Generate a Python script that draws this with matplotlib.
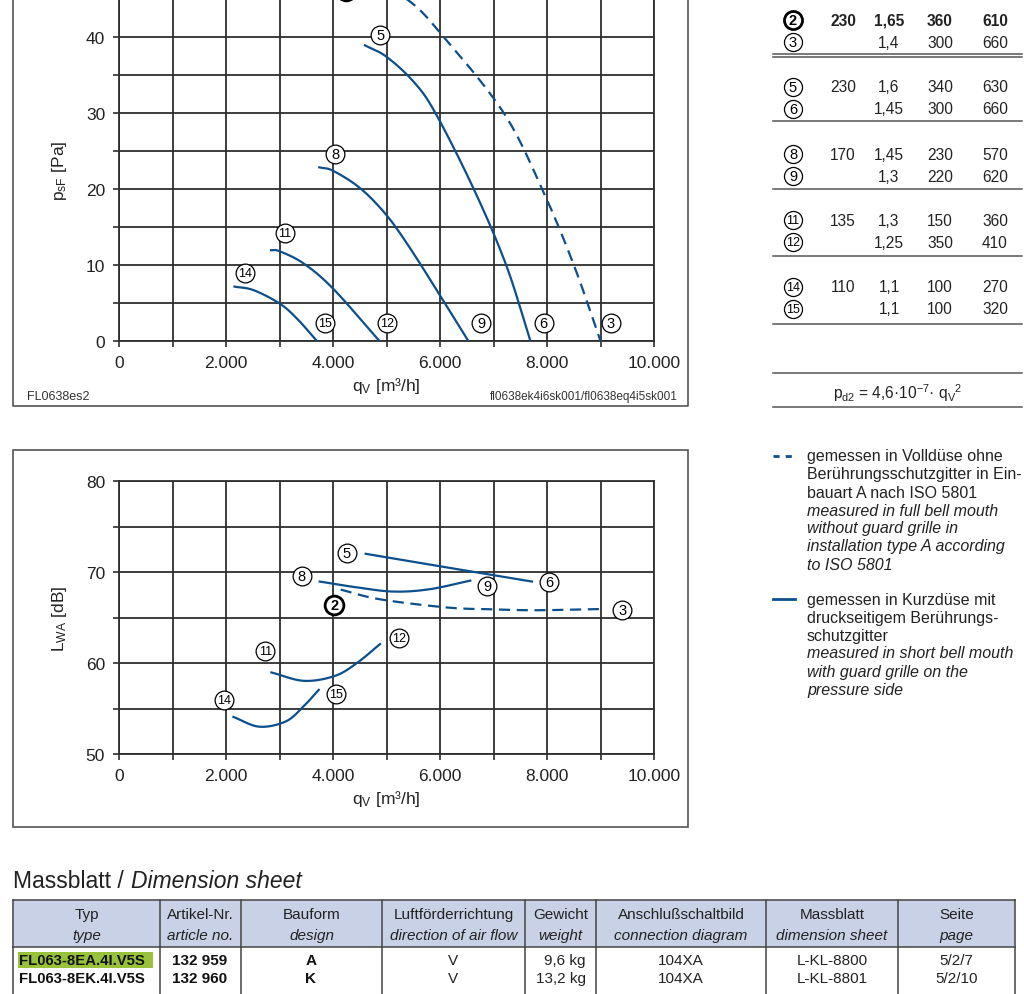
import numpy as np
import matplotlib
matplotlib.use("Agg")
import matplotlib.pyplot as plt
from matplotlib.patches import Rectangle
from matplotlib.ticker import MultipleLocator, FuncFormatter

SANS = ['Liberation Sans', 'DejaVu Sans']
plt.rcParams['font.family'] = SANS
plt.rcParams['mathtext.default'] = 'regular'
BLUE = '#0b4f8c'
GRIDC = '#2e2e2e'
TXT = '#222222'

# ---------------- data: p_sF vs q_V ----------------
q_23 = [4300, 5353, 6070, 7192, 7909, 8501, 9000]
p_23 = [48.6, 45.1, 40.0, 30.0, 20.0, 10.0, 0.0]
q_56 = [4598, 5000, 5509, 5914, 6631, 7236, 7690]
p_56 = [38.9, 37.4, 34.1, 30.0, 20.0, 10.0, 0.0]
q_89 = [3744, 4000, 4509, 5000, 5442, 6000, 6530]
p_89 = [22.85, 22.4, 20.1, 16.56, 12.2, 6.0, 0.0]
q_1112 = [2842, 3004, 3451, 4000, 4869]
p_1112 = [11.95, 11.8, 10.2, 6.9, 0.0]
q_1415 = [2158, 2519, 3004, 3327, 3700]
p_1415 = [7.16, 6.68, 4.92, 2.94, 0.0]

p_labels = ['2', '3', '5', '6', '8', '9', '11', '12', '14', '15']
p_label_q = [4236, 9190, 4879, 7937, 4043, 6767, 3099, 5012, 2364, 3851]
p_label_v = [46.0, 2.4, 40.2, 2.4, 24.6, 2.4, 14.2, 2.4, 9.0, 2.4]

# ---------------- data: L_WA vs q_V ----------------
lq_23 = [4144, 4879, 6132, 6967, 7803, 9014]
L_23 = [68.06, 67.0, 66.1, 65.9, 65.8, 65.93]
lq_56 = [4611, 6132, 7719]
L_56 = [72.0, 70.5, 68.95]
lq_89 = [3751, 4461, 5129, 5797, 6566]
L_89 = [68.95, 68.3, 67.85, 68.1, 69.05]
lq_1112 = [2849, 3459, 4043, 4461, 4879]
L_1112 = [58.96, 58.04, 58.6, 60.06, 62.08]
lq_1415 = [2139, 2623, 3124, 3459, 3734]
L_1415 = [54.07, 53.0, 53.6, 55.3, 57.05]

L_labels = ['2', '3', '5', '6', '8', '9', '11', '12', '14', '15']
L_label_q = [4027, 9407, 4261, 8037, 3417, 6884, 2732, 5230, 1955, 4060]
L_label_v = [66.4, 65.8, 72.07, 68.95, 69.6, 68.5, 61.3, 62.8, 55.95, 56.6]

# ---------------- data: operating table ----------------
op_ids = ['2', '3', '5', '6', '8', '9', '11', '12', '14', '15']
op_U = ['230', '', '230', '', '170', '', '135', '', '110', '']
op_I = ['1,65', '1,4', '1,6', '1,45', '1,45', '1,3', '1,3', '1,25', '1,1', '1,1']
op_P = ['360', '300', '340', '300', '230', '220', '150', '350', '100', '100']
op_n = ['610', '660', '630', '660', '570', '620', '360', '410', '270', '320']

# ---------------- data: dimension table ----------------
dim_head_de = ['Typ', 'Artikel-Nr.', 'Bauform', 'Luftförderrichtung', 'Gewicht',
               'Anschlußschaltbild', 'Massblatt', 'Seite']
dim_head_en = ['type', 'article no.', 'design', 'direction of air flow', 'weight',
               'connection diagram', 'dimension sheet', 'page']
dim_rows = [
    ['FL063-8EA.4I.V5S', '132 959', 'A', 'V', '9,6 kg', '104XA', 'L-KL-8800', '5/2/7'],
    ['FL063-8EK.4I.V5S', '132 960', 'K', 'V', '13,2 kg', '104XA', 'L-KL-8801', '5/2/10'],
]


def smooth(xs, ys, n=25):
    P = np.column_stack([xs, ys]).astype(float)
    P = np.vstack([2 * P[0] - P[1], P, 2 * P[-1] - P[-2]])
    out = []
    t = np.linspace(0, 1, n, endpoint=False)[:, None]
    for i in range(1, len(P) - 2):
        p0, p1, p2, p3 = P[i - 1], P[i], P[i + 1], P[i + 2]
        seg = 0.5 * ((2 * p1) + (-p0 + p2) * t + (2 * p0 - 5 * p1 + 4 * p2 - p3) * t ** 2
                     + (-p0 + 3 * p1 - 3 * p2 + p3) * t ** 3)
        out.append(seg)
    out.append(P[-2][None, :])
    out = np.vstack(out)
    return out[:, 0], out[:, 1]


W, H = 1024, 995
fig = plt.figure(figsize=(W / 100, H / 100), dpi=100)

# overlay in pixel coordinates
ov = fig.add_axes([0, 0, 1, 1])
ov.set_xlim(0, W)
ov.set_ylim(H, 0)
ov.axis('off')


def pax(l, t, r, b):
    return fig.add_axes([l / W, 1 - b / H, (r - l) / W, (b - t) / H])


# frames around the charts
ov.plot([13, 13, 688, 688], [-5, 407, 407, -5], color='#555555', lw=1.2)
ov.add_patch(Rectangle((13, 451), 675, 377, fill=False, ec='#555555', lw=1.2))


def style_chart(ax, ymin, ymax, ylab):
    ax.set_xlim(0, 10000)
    ax.set_ylim(ymin, ymax)
    ax.xaxis.set_major_locator(MultipleLocator(1000))
    ax.yaxis.set_major_locator(MultipleLocator(5))
    ax.xaxis.set_major_formatter(FuncFormatter(
        lambda v, p: ('{:,.0f}'.format(v).replace(',', '.') if int(round(v)) % 2000 == 0 else '')))
    ax.yaxis.set_major_formatter(FuncFormatter(
        lambda v, p: ('%d' % v if int(round(v)) % 10 == 0 else '')))
    ax.grid(True, color=GRIDC, lw=1.3)
    for s in ax.spines.values():
        s.set_color(GRIDC)
        s.set_linewidth(1.3)
    ax.tick_params(length=4, width=1.2, color=GRIDC, labelsize=12.5, labelcolor=TXT, pad=6)
    ax.set_xlabel(r'q$_V$ [m³/h]', fontsize=12.5, color=TXT, labelpad=4)
    ax.set_ylabel(ylab, fontsize=12.5, color=TXT, labelpad=12)


def circ_labels(ax, xs, ys, labs):
    for x, y, s in zip(xs, ys, labs):
        bold = s == '2'
        ax.plot([x], [y], marker='o', ms=13.5, mfc='white', mec='black',
                mew=2.0 if bold else 0.9, zorder=5, clip_on=False)
        ax.text(x, y, s, ha='center', va='center', fontsize=10.5 if len(s) == 1 else 9,
                fontweight='bold' if bold else 'normal', zorder=6,
                color='black', clip_on=False)


# ---------------- top chart ----------------
ax1 = pax(119, 0, 654, 342)
style_chart(ax1, 0, 45, r'p$_{sF}$ [Pa]')
ax1.spines['top'].set_visible(False)
for q, p, ls in [(q_23, p_23, (0, (5, 3))), (q_56, p_56, '-'), (q_89, p_89, '-'),
                 (q_1112, p_1112, '-'), (q_1415, p_1415, '-')]:
    xs, ys = smooth(q, p)
    ax1.plot(xs, ys, color=BLUE, lw=1.6, ls=ls, zorder=4)
circ_labels(ax1, p_label_q, p_label_v, p_labels)
ov.text(27, 397, 'FL0638es2', fontsize=9, color='#333333', va='center')
ov.text(678, 397, 'fl0638ek4i6sk001/fl0638eq4i5sk001', fontsize=8.5,
        color='#333333', va='center', ha='right')

# ---------------- bottom chart ----------------
ax2 = pax(119, 482, 654, 755)
style_chart(ax2, 50, 80, r'L$_{WA}$ [dB]')
for q, L, ls in [(lq_23, L_23, (0, (5, 3))), (lq_56, L_56, '-'), (lq_89, L_89, '-'),
                 (lq_1112, L_1112, '-'), (lq_1415, L_1415, '-')]:
    xs, ys = smooth(q, L)
    ax2.plot(xs, ys, color=BLUE, lw=1.6, ls=ls, zorder=4)
circ_labels(ax2, L_label_q, L_label_v, L_labels)

# ---------------- operating point table ----------------
row_y = [21, 43, 88, 110, 155, 177, 221, 243, 288, 310]
for i, y in enumerate(row_y):
    bold = op_ids[i] == '2'
    ov.plot([793], [y], marker='o', ms=13, mfc='white', mec='black', mew=2.0 if bold else 0.9)
    ov.text(793, y, op_ids[i], ha='center', va='center',
            fontsize=10.5 if len(op_ids[i]) == 1 else 9,
            fontweight='bold' if bold else 'normal')
    for x, val in zip([843, 889, 940, 995], [op_U[i], op_I[i], op_P[i], op_n[i]]):
        ov.text(x, y, val, ha='center', va='center', fontsize=11.2,
                fontweight='bold' if bold else 'normal', color=TXT)
for y in [55, 58, 122, 190, 257, 325, 374, 408]:
    ov.plot([773, 1022], [y, y], color='#555555', lw=1.1)
ov.text(898, 393, r'p$_{d2}$ = 4,6·10$^{-7}$· q$_V$$^2$', ha='center', va='center',
        fontsize=11.2, color=TXT)

# ---------------- legend text ----------------
ov.plot([773, 795], [457, 457], color=BLUE, lw=2, ls=(0, (2.2, 2.2)))
ov.plot([773, 795], [600, 600], color=BLUE, lw=2)
leg1 = [('gemessen in Volldüse ohne', 'normal'),
        ('Berührungsschutzgitter in Ein-', 'normal'),
        ('bauart A nach ISO 5801', 'normal'),
        ('measured in full bell mouth', 'italic'),
        ('without guard grille in', 'italic'),
        ('installation type A according', 'italic'),
        ('to ISO 5801', 'italic')]
leg2 = [('gemessen in Kurzdüse mit', 'normal'),
        ('druckseitigem Berührungs-', 'normal'),
        ('schutzgitter', 'normal'),
        ('measured in short bell mouth', 'italic'),
        ('with guard grille on the', 'italic'),
        ('pressure side', 'italic')]
for y0, lines in [(457, leg1), (600, leg2)]:
    for k, (s, st) in enumerate(lines):
        ov.text(807, y0 + 18 * k, s, va='center', ha='left', fontsize=11.5,
                style=st, color=TXT)

# ---------------- dimension sheet ----------------
t1 = ov.text(13, 882, 'Massblatt / ', fontsize=16.5, va='center', ha='left', color=TXT)
renderer = fig.canvas.get_renderer()
bb = t1.get_window_extent(renderer)
ov.text(13 + bb.width + 1, 882, 'Dimension sheet', fontsize=16.5, va='center', ha='left',
        style='italic', color=TXT)
ov.add_patch(Rectangle((13, 901), 1002, 47, fc='#c9d1e6', ec='none'))
colx = [13, 160, 241, 382, 525, 596, 766, 898, 1015]
for x in colx:
    ov.plot([x, x], [901, 1000], color='#444444', lw=1.1)
ov.plot([13, 1015], [901, 901], color='#444444', lw=1.1)
ov.plot([13, 1015], [948, 948], color='#444444', lw=1.1)
centers = [(colx[i] + colx[i + 1]) / 2 for i in range(8)]
for c, de, en in zip(centers, dim_head_de, dim_head_en):
    ov.text(c, 915, de, ha='center', va='center', fontsize=11, color=TXT)
    ov.text(c, 936, en, ha='center', va='center', fontsize=11, style='italic', color=TXT)
ov.add_patch(Rectangle((18, 953), 135, 16, fc='#98c23a', ec='none'))
for r, y in zip(dim_rows, [961, 979]):
    ov.text(19, y, r[0], ha='left', va='center', fontsize=10.7, fontweight='bold',
            color='#111111')
    ov.text(200, y, r[1], ha='center', va='center', fontsize=11, fontweight='bold',
            color='#111111')
    ov.text(311, y, r[2], ha='center', va='center', fontsize=11, fontweight='bold',
            color='#111111')
    ov.text(453, y, r[3], ha='center', va='center', fontsize=11, color=TXT)
    ov.text(586, y, r[4], ha='right', va='center', fontsize=11, color=TXT)
    for c, v in zip(centers[5:], r[5:]):
        ov.text(c, y, v, ha='center', va='center', fontsize=11, color=TXT)

fig.savefig('out.png', dpi=100)
